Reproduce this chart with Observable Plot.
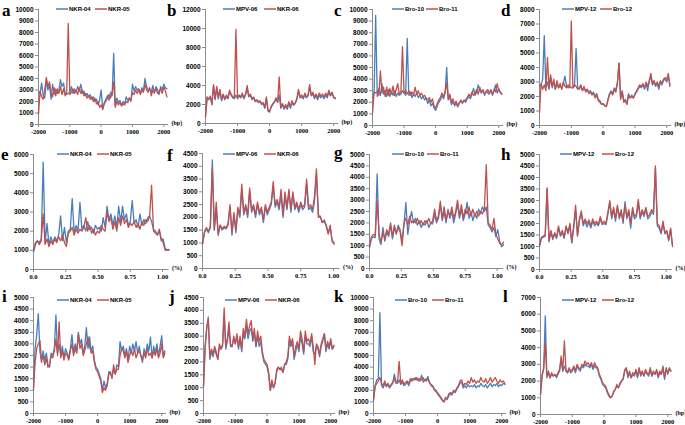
<!DOCTYPE html>
<html><head><meta charset="utf-8">
<script src="https://cdn.jsdelivr.net/npm/d3@7"></script>
<script src="https://cdn.jsdelivr.net/npm/@observablehq/plot@0.6"></script>
<style>
body{margin:0;background:#fff;}
#fig{position:relative;width:685px;height:425px;overflow:hidden;background:#fff;}
#fig svg{position:absolute;}
</style></head>
<body><div id="fig"></div>
<script>
// ---------- positions (categories) ----------
const bpPositions = [-2000,-1950,-1900,-1850,-1800,-1750,-1700,-1650,-1600,-1550,
 -1500,-1450,-1400,-1350,-1300,-1250,-1200,-1150,-1100,-1050,
 -1000,-950,-900,-850,-800,-750,-700,-650,-600,-550,
 -500,-450,-400,-350,-300,-250,-200,-150,-100,-50,
 0,50,100,150,200,250,300,350,400,450,
 500,550,600,650,700,750,800,850,900,950,
 1000,1050,1100,1150,1200,1250,1300,1350,1400,1450,
 1500,1550,1600,1650,1700,1750,1800,1850,1900,1950,
 2000,2050,2100];
const pctPositions = [0,0.015,0.03,0.045,0.06,0.075,0.09,0.105,0.12,0.135,
 0.15,0.165,0.18,0.195,0.21,0.225,0.24,0.255,0.27,0.285,
 0.3,0.315,0.33,0.345,0.36,0.375,0.39,0.405,0.42,0.435,
 0.45,0.465,0.48,0.495,0.51,0.525,0.54,0.555,0.57,0.585,
 0.6,0.615,0.63,0.645,0.66,0.675,0.69,0.705,0.72,0.735,
 0.75,0.765,0.78,0.795,0.81,0.825,0.84,0.855,0.87,0.885,
 0.9,0.915,0.93,0.945,0.96,0.975,0.99,1.005,1.02,1.035,
 1.05];

// ---------- tick labels ----------
const bpTicks = [-2000,-1000,0,1000,2000];
const pctTicks = [0,0.25,0.5,0.75,1];
const pctTickLabels = ["0.0","0.25","0.50","0.75","1.00"];
const yTicks10000 = [0,1000,2000,3000,4000,5000,6000,7000,8000,9000,10000];
const yTicks12000 = [0,2000,4000,6000,8000,10000,12000];
const yTicks8000 = [0,1000,2000,3000,4000,5000,6000,7000,8000];
const yTicks6000 = [0,1000,2000,3000,4000,5000,6000];
const yTicks4500 = [0,500,1000,1500,2000,2500,3000,3500,4000,4500];
const yTicks5000 = [0,500,1000,1500,2000,2500,3000,3500,4000,4500,5000];
const yTicks7000 = [0,1000,2000,3000,4000,5000,6000,7000];

// ---------- series names ----------
const namesA = ["NKR-04","NKR-05"];
const namesB = ["MPV-06","NKR-06"];
const namesC = ["Bro-10","Bro-11"];
const namesD = ["MPV-12","Bro-12"];

// ---------- series values ----------
const aBlue = [2800,2700,3600,2500,2300,3800,3000,3500,2200,3500,
 2600,3100,2700,2900,3900,3300,3600,2700,2600,2700,
 2800,3300,2700,3100,2800,3300,2900,3500,2700,2900,
 2500,2700,2400,2600,2200,2400,2000,2200,1700,2100,
 3000,1400,1900,2200,2500,2100,2800,2500,6200,1700,
 2300,1900,2100,1700,2000,1800,2400,2100,2300,2000,
 3500,2900,3300,3000,3100,2700,3200,2900,4000,3300,
 3000,3100,2800,3400,2700,3300,3000,2600,3300,3000,
 3500,3200,3100];
const aRed = [900,2900,2400,2200,3000,4100,3300,3700,2800,2400,
 3200,2500,3100,2700,3300,2600,3100,2500,2700,8800,
 2600,2800,3100,2700,3000,2600,3200,2700,3000,2500,
 2700,2300,2500,2200,2400,2000,2300,1800,2000,1500,
 1700,1300,1800,2000,2300,2600,2300,2700,3700,1500,
 2000,1700,1900,1600,1800,1700,2000,1900,2300,2100,
 2800,2600,3000,2700,3100,2600,3000,2800,3500,3000,
 2800,3200,2500,3000,2800,3200,2700,2900,3100,2700,
 3300,2900,2400];
const bBlue = [800,2700,2500,2800,2000,3900,2500,3700,2600,3400,
 2400,3000,2500,2800,2600,3300,3000,2700,2600,3000,
 2600,2900,2700,3000,2600,3000,3700,2800,3000,2500,
 2700,2300,2400,2200,2300,2000,2100,1600,2600,1300,
 1200,1700,2000,2200,2600,2200,3000,1600,2000,1500,
 1800,1500,2100,1600,2200,1900,2100,2500,3400,2700,
 2800,2600,3000,2700,2900,3800,2900,3100,2600,2900,
 2500,3000,2700,2900,2600,3000,2700,3300,2900,3100,
 2700,2600];
const bRed = [700,2800,2600,2900,2000,4100,2600,3900,2800,3600,
 2500,3100,2600,3000,2700,3500,3100,2800,2700,9900,
 2700,3000,2800,3200,2700,3100,4000,2900,3100,2600,
 2800,2400,2500,2300,2400,2100,2200,1700,2800,1400,
 1300,1800,2100,2300,2700,2300,4900,1700,2100,1600,
 2000,1700,2300,1800,2400,2000,2200,2600,3600,2800,
 3000,2700,3200,2800,3000,4100,3000,3300,2800,3100,
 2700,3200,2900,3100,2800,3200,2900,3500,3000,3300,
 2800,2700];
const cBlue = [2400,2800,9500,2500,3200,2600,3600,2700,3000,2500,
 3100,2500,2900,2600,3000,2500,2800,2600,2700,3000,
 2800,2600,7500,2600,2900,2400,2700,2500,2800,2400,
 2600,2300,2500,2200,2400,1900,2200,1700,1900,1500,
 1300,1700,2000,2200,2600,2300,2800,5000,2200,2500,
 1800,2100,1700,1900,1600,2000,2100,1900,2200,2000,
 2300,2500,2300,2700,3200,2600,2900,3500,3000,2800,
 3100,2600,3000,2800,2700,3100,2600,3000,3500,2800,
 3200,2800,2700];
const cRed = [1000,2900,2800,2900,2600,4700,2800,3300,2500,3300,
 2600,3200,2700,3400,2600,3100,3600,2700,2900,6800,
 2800,3000,2700,3000,2600,2900,2600,3300,2700,3000,
 2600,2800,2500,2600,2300,2200,2400,2000,2300,1700,
 1500,1900,2200,2400,2800,2500,2900,3700,2300,2700,
 2000,2300,1800,2100,1700,1900,2200,2000,2100,2200,
 2400,2700,2500,2900,2600,2800,3100,2700,3300,2900,
 3000,2700,2900,3100,2800,3000,2700,3100,2900,3600,
 3000,2900,2700];
const dBlue = [2700,2800,3200,6200,2600,3000,2500,3300,2600,3000,
 2500,2900,2600,2700,2600,2900,3400,2700,2600,2700,
 2600,2600,2700,5300,2600,2500,2700,2400,2600,2400,
 2500,2300,2400,2200,2300,2000,2200,1800,1700,1500,
 1500,1400,1300,1800,2200,2400,2200,2600,2400,3000,
 4300,1900,2400,1700,1800,1500,2200,1900,2100,1900,
 2200,2300,2500,2700,2600,2800,2500,2900,2400,3000,
 3400,2800,3000,2700,2900,2500,3000,2800,3100,3200,
 3000,3400,2800];
const dRed = [900,2900,2500,2800,2400,4700,2600,3500,2700,3200,
 2500,3100,2600,2900,2500,3000,2700,2600,2800,2600,
 7200,2600,2800,2700,2500,2600,2800,2400,2700,2300,
 2500,2200,2300,2100,2200,1900,2100,1700,1600,1450,
 1500,1350,1300,1700,2100,2300,2100,2500,2300,2900,
 4300,1800,2300,1600,1700,1450,2100,1900,2000,1900,
 2100,2400,2600,2800,2700,2900,2600,3000,2700,3100,
 3600,2900,3100,2800,3000,2700,3100,2900,3200,3300,
 3200,3600,2700];
const eBlue = [900,1300,1500,1400,1600,5600,1400,2400,1300,1700,
 1400,1700,1500,1800,2800,1500,2200,1400,2000,2100,
 3700,1900,2300,2000,3500,2100,2300,2000,2500,2100,
 2200,1900,2300,2100,2200,2000,2700,2200,3300,2600,
 2900,2300,2800,2200,3300,2500,3300,2600,2900,2300,
 2500,3600,2400,2600,2200,2900,2300,2600,2400,2700,
 2800,2500,2100,2000,1800,2000,1500,1600,1100,1000,
 1050];
const eRed = [1000,1400,1500,1300,1500,2900,1300,1600,1200,1500,
 1300,1600,1400,1700,1500,1800,1400,1200,1900,2000,
 2200,1800,2100,1900,2100,2000,2200,2700,2000,2300,
 1900,2100,1800,2000,1900,2300,2100,2000,3000,2500,
 2700,2100,2500,2000,2700,2300,2800,2400,2600,2200,
 2400,2300,2500,2200,2400,2100,2500,2300,2600,2500,
 2800,4400,2000,1900,1800,2100,1600,1400,1000,1050,
 1000];
const fBlue = [950,1400,1550,1400,1600,4250,1500,2300,1300,1700,
 1500,1600,1550,1700,2400,1300,2100,1400,2300,2000,
 3100,2100,2400,2000,3000,2200,2400,2000,2500,2100,
 2300,1800,2400,2100,2300,2500,3200,2400,2600,2300,
 2900,2000,2800,2300,3000,2200,2900,2300,2500,2200,
 2500,2300,2400,3300,2300,2400,2200,2600,3700,2100,
 2000,1800,1900,1700,1400,1600,1100,1000];
const fRed = [950,1450,1600,1450,1650,3950,1550,2600,1350,1700,
 1550,1650,1600,1750,2500,1400,2200,1500,2400,2100,
 3300,2200,2500,2100,3150,2300,2500,2100,2600,2200,
 2400,1900,2500,2200,2400,2600,3400,2500,2700,2400,
 3100,2100,3000,2400,3100,2300,3000,2400,2600,2300,
 2600,2400,2500,3500,2400,2500,2300,2800,3900,2000,
 2050,1800,1850,1650,1350,1700,1050,950];
const gBlue = [900,1300,1400,1350,4150,1300,1050,1800,1200,1600,
 1400,1900,1300,1800,1500,1900,1700,1200,1900,2900,
 1500,2100,2500,2000,2200,1900,2100,1800,2000,1900,
 2100,1800,2000,1950,2400,2000,2200,2800,2100,2500,
 2000,2600,2200,2500,2000,2400,2800,2200,2600,2100,
 2400,2900,2200,2500,2100,2400,2200,2600,2400,2700,
 2500,2700,1900,1800,1600,1800,1400,1700,1200,950,
 1050];
const gRed = [1000,1400,1500,1450,2950,1500,1150,1600,1300,1700,
 1500,2000,1400,1900,1550,1800,1600,1000,2000,2200,
 1900,2300,2000,2100,2000,2200,1950,2100,1900,2100,
 2000,2200,1950,2100,2600,2100,2300,2950,2200,2700,
 2100,2500,2300,2700,2200,2500,3000,2300,2800,2200,
 2600,2400,2700,2300,2600,2300,2500,2300,2500,2400,
 2600,4550,2000,1900,1700,2200,1500,1300,1100,1050,
 1150];
const hBlue = [1000,1350,1400,1450,3500,1200,1650,1300,1550,1350,
 1800,1450,1600,1350,1850,1550,1900,1150,1800,2600,
 1450,2100,2450,1900,2100,1850,2050,1800,2100,1900,
 2000,1900,2200,1950,2000,1950,2400,2900,2200,2600,
 2100,2700,2200,2500,2000,2950,2200,2500,1800,2600,
 2200,2300,2900,2200,2500,2300,2600,2200,2300,2500,
 2400,4400,1900,1800,1550,2000,1550,1650,1250,1750,
 1000];
const hRed = [1050,1400,1450,1500,3550,1250,1700,1350,1600,1400,
 1900,1500,1700,1400,1900,1600,2000,1200,1900,2800,
 1500,2200,2550,2000,2200,2000,2150,1900,2200,2000,
 2100,1950,2300,2000,2100,2000,2500,3000,2300,2700,
 2200,2800,2300,2600,2100,2800,2300,2600,2000,2700,
 2300,2400,3050,2300,2600,2400,2700,2300,2400,2600,
 2500,4500,2000,1900,1600,2100,1600,1700,1300,1800,
 1050];
const iBlue = [1000,2800,3400,4300,2700,2200,2700,2300,2600,2100,
 2000,2600,2500,2800,4250,2600,3000,2500,2900,2400,
 2800,2600,2400,2800,3400,2600,3000,2700,3500,3000,
 3200,2600,2900,3700,2800,3300,2700,2900,2300,2000,
 1900,1700,1500,1000,1400,1100,1300,1800,1700,1600,
 1900,1700,2100,2000,3100,2700,2900,2500,2800,2300,
 2900,2600,3000,2700,3100,2600,2900,2500,2200,2800,
 2500,3000,2700,3300,2400,2900,2600,3000,2500,2900,
 3350,2500,2700];
const iRed = [1100,2200,2800,3000,3150,2300,2500,2100,2400,2000,
 2100,2500,2400,2700,3200,2500,3950,2400,2700,2300,
 2600,2500,2300,2700,3000,2500,2800,2600,3400,2800,
 3000,2500,2700,3000,3300,2900,2600,2700,2200,1900,
 1800,1600,1400,900,1100,1000,1200,1700,1800,1500,
 2100,1700,1900,1900,2500,2800,2700,2400,2700,2200,
 2500,2700,2500,2800,2400,2600,2700,2500,2300,2600,
 2400,2800,2500,2600,2400,2700,2500,2800,2400,2600,
 3000,2400,2600];
const jBlue = [1050,2500,3300,3750,2100,2400,2200,2500,2300,2100,
 2600,2500,2600,3800,2500,2800,3300,2600,2600,2900,
 2700,3000,2500,2900,2400,3100,2900,3400,2900,3200,
 3300,2800,3100,2600,3000,2600,2800,2300,2000,1900,
 1800,1500,900,1200,1000,1150,1600,1800,1700,1700,
 1600,1900,1900,2100,2800,2600,2800,2100,2400,2700,
 2400,3000,2700,2300,3000,2700,2700,2600,3000,2400,
 2300,2600,2500,2200,2600,2800,3100,2400,2700,2500,
 2800,2500,2600];
const jRed = [1050,2600,3300,3650,2200,2500,2300,2600,2400,2100,
 2700,2500,2700,4100,2600,2900,3550,2700,2600,3000,
 2700,3100,2600,3000,2500,3300,3000,3650,3100,3400,
 3600,2900,3300,2600,3200,2800,3000,2400,2100,2000,
 1900,1600,900,1300,1000,1200,1700,1800,1700,1800,
 1600,1900,2000,2200,3000,2700,2900,2200,2600,2800,
 2500,3200,2900,2400,3200,2800,2900,2700,3100,2600,
 1900,2700,2600,2300,2700,2900,3100,2500,2800,2600,
 2900,2500,2650];
const kBlue = [1100,2400,2900,3000,8700,2400,2200,2600,2300,2500,
 2200,2400,2600,3400,2800,2600,2900,2500,2700,2400,
 2500,2700,2400,2800,3000,2900,3100,2900,3000,2800,
 3300,2700,2900,2800,3200,2600,2500,2400,2100,2000,
 1800,1600,1400,1200,1000,1300,1200,1500,1700,1600,
 1900,1800,2100,2300,2600,2700,2200,2400,2200,2500,
 2300,2400,2300,2500,2200,2400,2300,2600,2400,2300,
 2500,2200,2400,2600,2300,2500,2400,2600,2300,2500,
 2400,2600,2500];
const kRed = [1200,2300,2600,2800,3100,2600,2400,2800,2400,2600,
 2300,2500,2700,3000,2600,2700,4500,2600,2900,2500,
 2700,2800,2600,3000,2800,3000,2900,3100,2800,3000,
 2900,3100,2800,3000,2900,2700,2400,2300,2000,1900,
 1700,1500,1300,1100,1000,1400,1300,1700,1800,1700,
 2000,1900,2200,2400,2800,2900,2400,2600,2500,2800,
 2600,3100,2700,2900,2600,2800,2700,3100,2800,2700,
 3000,2600,2800,3100,2700,2900,3100,2800,2600,2900,
 2700,2800,2600];
const lBlue = [1200,2300,2700,5900,2200,2500,2200,2400,2300,2400,
 2200,2400,2600,3300,2600,2900,2600,2500,2700,2500,
 2600,2800,2500,2900,2700,2600,2900,2800,3000,2900,
 2900,2800,3000,2700,2900,2800,2700,2300,2100,1800,
 1700,1600,1300,1100,1000,1100,1300,1500,1700,1600,
 1800,2000,2100,2600,2700,2200,2500,2200,2400,2300,
 2600,2200,2700,2300,2500,2300,2600,2400,2300,2700,
 2300,2500,2400,2600,2200,2500,2400,2900,2100,2800,
 2400,2700,2600];
const lRed = [1200,2400,2800,4300,2300,2600,2200,2500,2300,2400,
 2300,2500,2700,3500,2600,4400,2700,2500,2800,2600,
 2700,2900,2600,3000,2800,2700,3000,2900,3200,3000,
 3100,2900,3100,2800,3100,2900,2800,2400,2200,1900,
 1800,1700,1400,1200,1000,1100,1400,1500,1800,1600,
 1900,2000,2200,2700,2800,2300,2600,2200,2500,2400,
 2700,2300,2800,2400,2600,2300,2700,2500,2400,2800,
 2300,2600,2400,2700,2300,2600,2400,2800,2200,2700,
 2500,2800,2600];

// ---------- layout (page pixel frame: xStart, xEnd, yTop, yBottom) ----------
const BLUE = "#4a7ebb", RED = "#c0504d", AXIS = "#8c8c8c";
const panels = [
 {letter:"a", kind:"bp", names:namesA, blue:aBlue, red:aRed, yMax:10000, yTicks:yTicks10000, frame:[38,168,9,124], lg:[56,95,9], lt:[2,15.5]},
 {letter:"b", kind:"bp", names:namesB, blue:bBlue, red:bRed, yMax:12000, yTicks:yTicks12000, frame:[205,338,9,123], lg:[223,264,9], lt:[167,15.5]},
 {letter:"c", kind:"bp", names:namesC, blue:cBlue, red:cRed, yMax:10000, yTicks:yTicks10000, frame:[372,503,9,125], lg:[392,426,9], lt:[334,15.5]},
 {letter:"d", kind:"bp", names:namesD, blue:dBlue, red:dRed, yMax:8000, yTicks:yTicks8000, frame:[539,671,9,125], lg:[562,600,9], lt:[501,15.5]},
 {letter:"e", kind:"pct", names:namesA, blue:eBlue, red:eRed, yMax:6000, yTicks:yTicks6000, frame:[33,168.5,154,269], lg:[57,97,154], lt:[1,160]},
 {letter:"f", kind:"pct", names:namesB, blue:fBlue, red:fRed, yMax:4500, yTicks:yTicks4500, frame:[202,339.5,153,268], lg:[223,264,154], lt:[167,161]},
 {letter:"g", kind:"pct", names:namesC, blue:gBlue, red:gRed, yMax:5000, yTicks:yTicks5000, frame:[369,503,154,268], lg:[392,427,154], lt:[334,158]},
 {letter:"h", kind:"pct", names:namesD, blue:hBlue, red:hRed, yMax:5000, yTicks:yTicks5000, frame:[539,672,154,269], lg:[560,602,154], lt:[501,160]},
 {letter:"i", kind:"bp", names:namesA, blue:iBlue, red:iRed, yMax:5000, yTicks:yTicks5000, frame:[33,166,297,413], lg:[57,97,300], lt:[2,302]},
 {letter:"j", kind:"bp", names:namesB, blue:jBlue, red:jRed, yMax:4500, yTicks:yTicks4500, frame:[203,335,297,413], lg:[225,265,300], lt:[169,302]},
 {letter:"k", kind:"bp", names:namesC, blue:kBlue, red:kRed, yMax:10000, yTicks:yTicks10000, frame:[373,506,297,413], lg:[395,432,300], lt:[334,302]},
 {letter:"l", kind:"bp", names:namesD, blue:lBlue, red:lRed, yMax:7000, yTicks:yTicks7000, frame:[540,672,297,414], lg:[562,602,300], lt:[503,302]}
];

const fig = document.getElementById("fig");
const SANS = "'Liberation Sans', Arial, sans-serif";
const SERIF = "'Liberation Serif', 'Times New Roman', serif";

for (const p of panels) {
  const isBp = p.kind === "bp";
  const xs = isBp ? bpPositions : pctPositions;
  const xDomain = isBp ? [-2000, 2150] : [0, 1.05];
  const ml = 30, mr = 20, mt = 5, mb = 14;
  const [x0, x1, y0, y1] = p.frame;
  const width = (x1 - x0) + ml + mr;
  const height = (y1 - y0) + mt + mb;
  const blueData = p.blue.map((v, i) => ({x: xs[i], y: v}));
  const redData = p.red.map((v, i) => ({x: xs[i], y: v}));
  const svg = Plot.plot({
    width, height,
    marginLeft: ml, marginRight: mr, marginTop: mt, marginBottom: mb,
    style: {background: "transparent", overflow: "visible", color: "#000"},
    x: {domain: xDomain},
    y: {domain: [0, p.yMax]},
    marks: [
      Plot.ruleY([0], {stroke: AXIS, strokeWidth: 1}),
      Plot.ruleX([xDomain[0]], {stroke: AXIS, strokeWidth: 1}),
      Plot.axisY(p.yTicks, {tickSize: 3, tickPadding: 2, stroke: AXIS, tickFormat: d => String(d),
        fontSize: 6.5, fontWeight: "bold", fontFamily: SANS, label: null}),
      Plot.axisX(isBp ? bpTicks : pctTicks, {tickSize: 3, tickPadding: 2, stroke: AXIS,
        tickFormat: isBp ? (d => String(d)) : (d => pctTickLabels[pctTicks.indexOf(d)]),
        fontSize: 6.5, fontWeight: "bold", fontFamily: SERIF, label: null}),
      Plot.line(blueData, {x: "x", y: "y", stroke: BLUE, strokeWidth: 1.3}),
      Plot.line(redData, {x: "x", y: "y", stroke: RED, strokeWidth: 1.3}),
      Plot.text([{x: xDomain[1], y: 0, t: isBp ? "(bp)" : "(%)"}],
        {x: "x", y: "y", text: "t", dx: 3, dy: -1, textAnchor: "start",
         fontSize: 6, fontWeight: "bold", fontFamily: SERIF, fill: "#000"})
    ]
  });
  svg.style.left = (x0 - ml) + "px";
  svg.style.top = (y0 - mt) + "px";
  fig.appendChild(svg);
}

// overlay: panel letters and legends
const overlay = d3.select(fig).append("svg")
  .attr("width", 685).attr("height", 425)
  .style("left", "0px").style("top", "0px");
for (const p of panels) {
  overlay.append("text").attr("x", p.lt[0]).attr("y", p.lt[1])
    .attr("font-family", SERIF).attr("font-weight", "bold").attr("font-size", 17)
    .text(p.letter);
  const [bx, rx, ly] = p.lg;
  [[bx, BLUE, p.names[0]], [rx, RED, p.names[1]]].forEach(([x, c, name]) => {
    overlay.append("line").attr("x1", x).attr("x2", x + 12).attr("y1", ly).attr("y2", ly)
      .attr("stroke", c).attr("stroke-width", 1.5);
    overlay.append("text").attr("x", x + 13).attr("y", ly).attr("dy", "0.35em")
      .attr("font-family", SANS).attr("font-weight", "bold").attr("font-size", 6)
      .text(name);
  });
}
</script>
</body></html>
